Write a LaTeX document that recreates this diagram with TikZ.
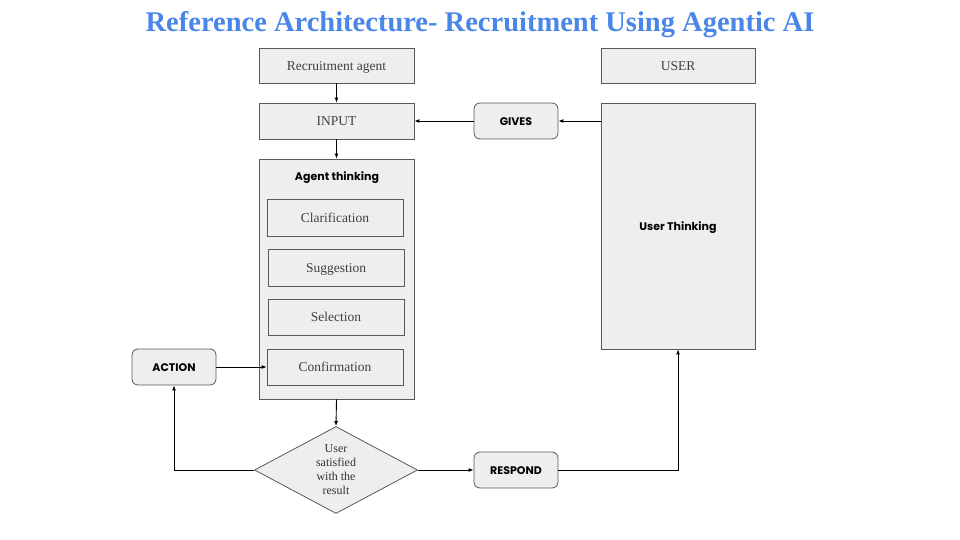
\documentclass[tikz,border=0pt]{standalone}
\usepackage{fontspec}
\setmainfont{Liberation Serif}
\newfontfamily\lblfont{Poppins}
\usetikzlibrary{shapes.geometric,arrows.meta}
\definecolor{boxfill}{HTML}{EEEEEE}
\definecolor{boxline}{HTML}{595959}
\definecolor{titleblue}{HTML}{4A86E8}
\tikzset{
  plainbox/.style={draw=boxline, fill=boxfill, line width=0.8pt, inner sep=0pt, font=\fontsize{13.5}{15}\selectfont, text=black!75, text height=2.4ex, text depth=0.3ex},
  roundbox/.style={draw=boxline, fill=boxfill, line width=0.8pt, rounded corners=6pt, inner sep=0pt, font=\lblfont\bfseries\fontsize{11}{13}\selectfont, text height=2.2ex, text depth=0.3ex},
  lbl/.style={font=\lblfont\bfseries\fontsize{11}{13}\selectfont},
  conn/.style={draw=black, line width=0.9pt, -{Latex[length=5pt,width=4pt]}},
}
\begin{document}
\begin{tikzpicture}[x=1pt,y=-1pt]
\useasboundingbox (0,0) rectangle (960,540);
\node[font=\bfseries\fontsize{28.5}{32}\selectfont, text=titleblue] (title) at (480,25) {Reference Architecture- Recruitment Using Agentic AI};
% top boxes
\node[plainbox, minimum width=155pt, minimum height=35pt] (ragent) at (336.5,65.5) {Recruitment agent};
\node[plainbox, minimum width=154pt, minimum height=35pt] (user) at (678,65.5) {USER};
\node[plainbox, minimum width=155pt, minimum height=36pt] (input) at (336.5,121) {INPUT};
\node[roundbox, minimum width=84pt, minimum height=36pt] (gives) at (516,121) {GIVES};
% user thinking
\node[plainbox, minimum width=154pt, minimum height=246pt] (uthink) at (678,226) {};
\node[lbl] (uthinklbl) at (678,228) {User Thinking};
% agent thinking
\node[plainbox, minimum width=155pt, minimum height=240pt] (athink) at (336.5,279) {};
\node[lbl] (athinklbl) at (337,178) {Agent thinking};
\node[plainbox, minimum width=136pt, minimum height=37pt] (clar) at (335,217.5) {Clarification};
\node[plainbox, minimum width=136pt, minimum height=37pt] (sugg) at (336,267.5) {Suggestion};
\node[plainbox, minimum width=136pt, minimum height=36pt] (sel) at (336,317) {Selection};
\node[plainbox, minimum width=136pt, minimum height=36pt] (conf) at (335,367) {Confirmation};
% action
\node[roundbox, minimum width=84pt, minimum height=36pt] (action) at (174,367) {ACTION};
% diamond
\node[draw=boxline, fill=boxfill, line width=0.8pt, diamond, aspect=1.87, minimum width=163pt, minimum height=87pt, inner sep=0pt, font=\fontsize{12}{14}\selectfont, align=center, text=black!80] (dec) at (336,470) {User\\satisfied\\with the\\result};
\node[roundbox, minimum width=84pt, minimum height=36pt] (respond) at (516,470) {RESPOND};
% connectors
\draw[conn] (ragent.south) -- (input.north);
\draw[conn] (input.south) -- (athink.north);
\draw[conn] (gives.west) -- (input.east);
\draw[conn] (uthink.west |- gives.east) -- (gives.east);
\draw[conn] (action.east) -- (conf.west);
\draw[conn] (athink.south) -- (dec.north);
\draw[conn] (dec.west) -| (action.south);
\draw[conn] (dec.east) -- (respond.west);
\draw[conn] (respond.east) -| (uthink.south);
\end{tikzpicture}
\end{document}
